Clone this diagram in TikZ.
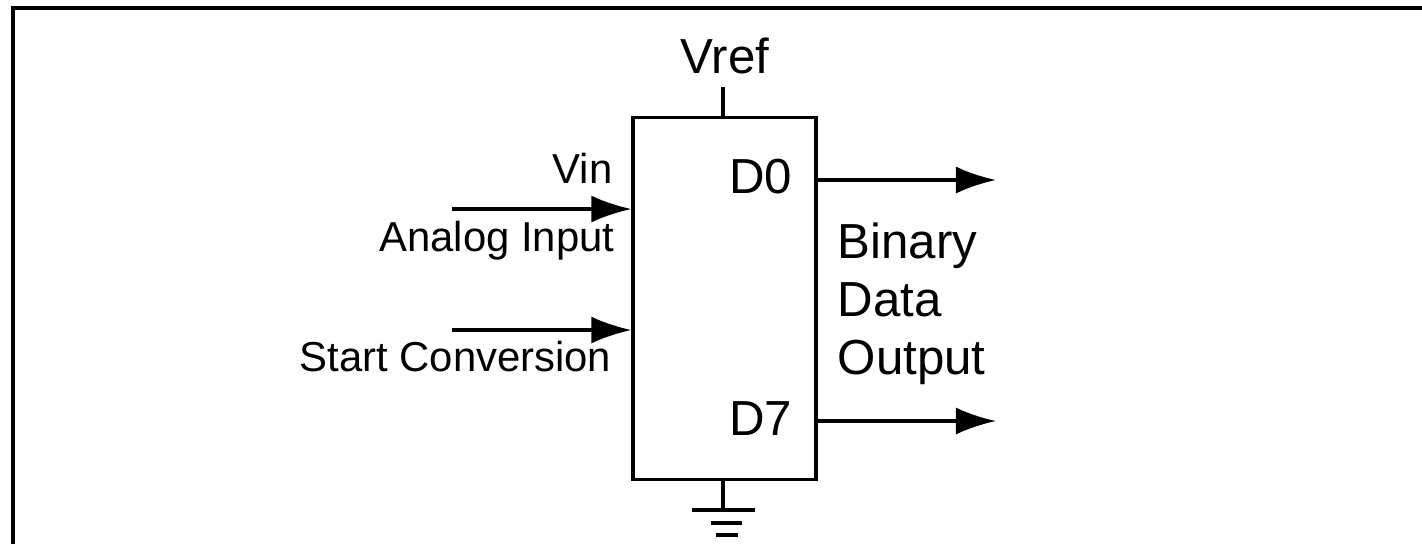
\documentclass[tikz,border=0pt]{standalone}
\usepackage{fontspec}
\setmainfont{Liberation Sans}
\usetikzlibrary{arrows.meta,positioning,calc}

\begin{document}
\begin{tikzpicture}[
    x=0.01cm, y=-0.01cm,
    adc/.style={draw, line width=0.9pt, minimum width=1.83cm, minimum height=3.61cm, inner sep=0pt},
    lbl/.style={inner sep=0pt, font=\fontsize{14}{16.5}\selectfont},
    inlbl/.style={inner sep=0pt, font=\fontsize{11.9}{14}\selectfont},
    sig/.style={-{Latex[length=0.4cm, width=0.27cm]}, line width=0.9pt},
    wire/.style={line width=0.9pt}
]
    \useasboundingbox (0,0) rectangle (1422,544);
    % Frame
    \draw[line width=1.1pt] (13,544) -- (13,8) -- (1422,8);

    % Converter block
    \node[adc] (adc) at (724.5,298.5) {};

    % Labels
    \node[lbl, anchor=base] (vref) at (725,73) {Vref};
    \node[lbl, anchor=base east] (d0) at (793,193) {D0};
    \node[lbl, anchor=base east] (d7) at (793,435) {D7};
    \node[lbl, anchor=north west, align=left] (binary) at (837,222) {Binary\\Data\\Output};
    \node[inlbl, anchor=base east] (vin) at (613,183) {Vin};
    \node[inlbl, anchor=base east] (analog) at (615,251) {Analog Input};
    \node[inlbl, anchor=base east] (start) at (612,371) {Start Conversion};

    % Inputs
    \coordinate (vinsrc) at (452,209);
    \coordinate (startsrc) at (452,330);
    \draw[sig] (vinsrc) -- (vinsrc -| adc.west);
    \draw[sig] (startsrc) -- (startsrc -| adc.west);

    % Outputs
    \coordinate (d0out) at (996,180);
    \coordinate (d7out) at (996,421);
    \draw[sig] (d0out -| adc.east) -- (d0out);
    \draw[sig] (d7out -| adc.east) -- (d7out);

    % Reference and ground
    \coordinate (vrefpin) at (723,87);
    \coordinate (gnd) at (723,510);
    \draw[wire] (vrefpin) -- (vrefpin |- adc.north);
    \draw[wire] (gnd |- adc.south) -- (gnd);
    \draw[wire] ($(gnd)+(-31,0)$) -- ($(gnd)+(32,0)$);
    \draw[wire] ($(gnd)+(-12,13)$) -- ($(gnd)+(19,13)$);
    \draw[wire] ($(gnd)+(-7,25)$) -- ($(gnd)+(15,25)$);
\end{tikzpicture}
\end{document}
